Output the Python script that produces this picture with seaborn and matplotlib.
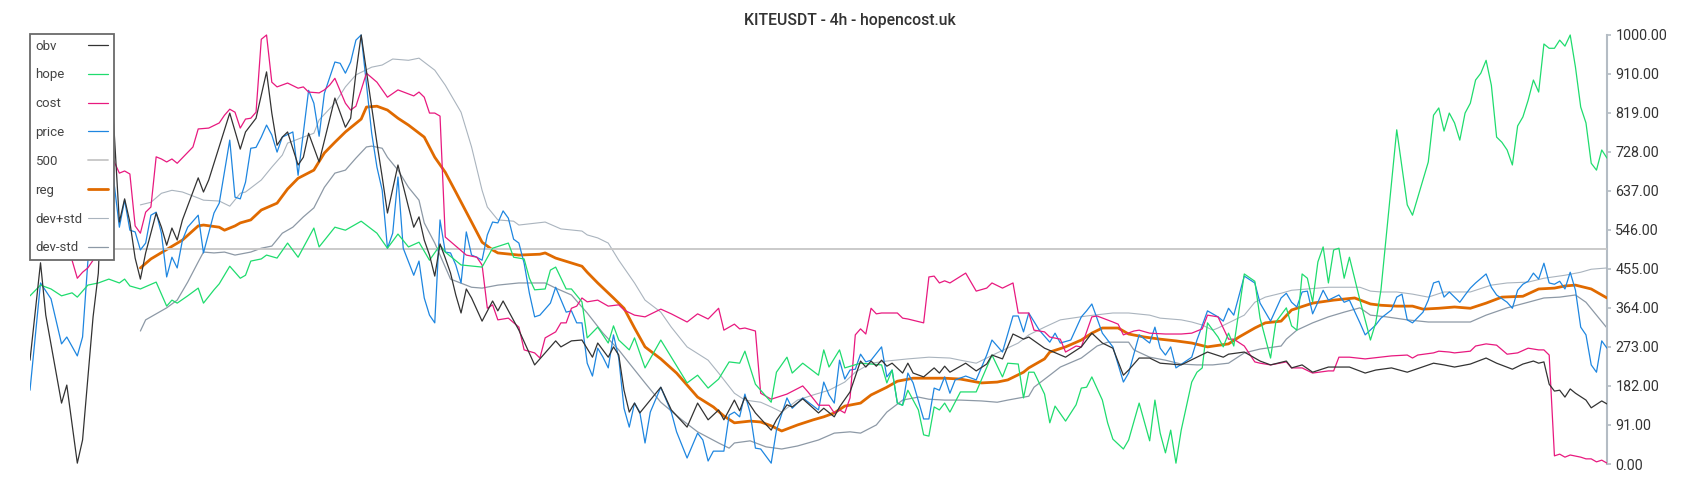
import matplotlib.pyplot as plt
import seaborn as sns

# values; x = candle index (0..300), y on the 0-1000 scale
obv_x = [0, 2, 3, 6, 7, 9, 10, 12, 13, 14, 15, 17, 18, 19, 20, 21, 22, 24, 25, 26, 27, 28, 29, 32, 33, 34,
         38, 40, 41, 43, 45, 46, 47, 48, 49, 51, 52, 53, 55, 58, 60, 61, 62, 63, 65, 66, 67, 68, 70, 72,
         73, 74, 75, 76, 77, 78, 79, 80, 81, 82, 83, 84, 86, 88, 89, 90, 93, 96, 100, 101, 103, 105, 107,
         108, 110, 111, 112, 113, 114, 115, 116, 120, 122, 125, 127, 129, 131, 132, 134, 135, 136, 138,
         141, 142, 144, 145, 147, 150, 151, 153, 154, 156, 158, 159, 160, 161, 162, 163, 164, 166, 167,
         168, 170, 172, 173, 174, 175, 178, 180, 182, 183, 185, 187, 189, 190, 193, 197, 200, 202, 204,
         206, 208, 209, 211, 213, 215, 219, 222, 224, 227, 228, 231, 234, 236, 239, 240, 242, 244, 247,
         251, 254, 256, 259, 262, 267, 269, 271, 274, 277, 279, 282, 284, 286, 287, 288, 289, 290, 291,
         292, 293, 294, 296, 297, 299, 300]
obv = [242, 469, 347, 142, 184, 2, 56, 343, 445, 750, 990, 564, 618, 564, 480, 431, 492, 585, 552, 510,
       550, 522, 569, 667, 634, 662, 818, 734, 774, 806, 914, 818, 743, 762, 774, 697, 715, 771, 704, 853,
       785, 806, 911, 1000, 832, 748, 669, 585, 697, 599, 552, 576, 522, 487, 438, 513, 480, 445, 394, 352,
       408, 387, 333, 380, 357, 380, 312, 231, 287, 273, 287, 289, 249, 282, 249, 273, 254, 172, 121, 142,
       119, 179, 126, 86, 142, 103, 126, 103, 149, 124, 156, 119, 79, 103, 138, 133, 152, 119, 130, 110,
       133, 168, 240, 226, 240, 228, 242, 228, 235, 212, 235, 212, 203, 224, 212, 228, 214, 235, 217, 233,
       254, 245, 303, 291, 296, 270, 249, 273, 305, 282, 270, 207, 219, 247, 247, 235, 231, 249, 261, 249,
       256, 261, 240, 231, 240, 224, 231, 214, 226, 226, 212, 219, 224, 214, 235, 231, 226, 233, 247, 235,
       221, 233, 240, 235, 238, 186, 170, 172, 156, 175, 165, 149, 131, 147, 140]

hope_x = [0, 2, 4, 6, 8, 9, 11, 13, 15, 17, 18, 19, 21, 24, 26, 27, 28, 30, 32, 33, 35, 36, 38, 40, 41,
          42, 44, 45, 47, 49, 51, 54, 55, 58, 60, 63, 66, 68, 70, 72, 74, 76, 78, 79, 82, 86, 88, 91, 92,
          94, 95, 96, 98, 99, 100, 102, 103, 105, 106, 108, 110, 111, 112, 114, 115, 117, 120, 125, 127,
          129, 131, 133, 135, 136, 138, 141, 142, 144, 145, 147, 150, 151, 152, 154, 155, 158, 162, 163,
          164, 165, 166, 167, 169, 170, 171, 172, 173, 174, 175, 177, 180, 183, 185, 186, 188, 189, 190,
          191, 193, 194, 195, 197, 199, 200, 201, 202, 204, 205, 206, 208, 209, 211, 212, 213, 214, 215,
          216, 217, 218, 219, 221, 222, 223, 224, 226, 227, 228, 229, 231, 233, 234, 236, 237, 239, 240,
          241, 242, 243, 244, 245, 246, 247, 248, 249, 250, 251, 253, 254, 255, 256, 257, 260, 262, 263,
          266, 267, 268, 269, 270, 271, 272, 273, 274, 275, 276, 277, 278, 279, 280, 281, 282, 283, 284,
          285, 286, 287, 288, 289, 290, 291, 292, 293, 294, 295, 296, 297, 298, 299, 300]
hope = [392, 417, 408, 392, 399, 389, 417, 422, 431, 422, 431, 415, 408, 424, 368, 382, 375, 392, 410,
        375, 406, 420, 461, 433, 440, 473, 478, 487, 480, 515, 482, 550, 506, 552, 545, 566, 538, 503, 536,
        506, 517, 475, 510, 494, 464, 459, 503, 515, 482, 478, 433, 406, 408, 452, 459, 408, 408, 378, 294,
        319, 282, 322, 289, 266, 294, 224, 289, 189, 207, 177, 198, 238, 235, 263, 186, 144, 214, 249, 212,
        235, 207, 266, 226, 266, 224, 235, 231, 189, 219, 142, 137, 172, 126, 68, 65, 133, 126, 142, 121,
        168, 168, 254, 203, 235, 233, 154, 214, 214, 163, 96, 135, 100, 138, 177, 179, 203, 149, 96, 58,
        35, 56, 142, 98, 54, 149, 72, 26, 79, 2, 79, 191, 214, 224, 329, 296, 273, 305, 275, 443, 426, 340,
        247, 331, 364, 322, 312, 443, 433, 378, 471, 506, 422, 499, 503, 433, 482, 382, 336, 289, 329, 406,
        779, 604, 580, 704, 813, 830, 776, 818, 795, 755, 818, 841, 895, 911, 941, 883, 762, 750, 732, 697,
        788, 809, 848, 895, 867, 979, 969, 969, 988, 974, 1000, 925, 832, 795, 701, 685, 732, 713]

cost_x = [7, 8, 9, 10, 11, 12, 13, 14, 15, 17, 18, 19, 20, 21, 22, 23, 24, 25, 26, 27, 28, 31, 32, 34,
          36, 37, 38, 39, 40, 41, 42, 43, 44, 45, 46, 47, 49, 51, 52, 53, 55, 56, 57, 58, 60, 61, 62, 63,
          64, 66, 68, 70, 73, 74, 75, 76, 77, 78, 79, 81, 83, 85, 86, 87, 88, 89, 91, 93, 94, 96, 97, 98,
          100, 101, 102, 103, 104, 105, 106, 108, 110, 112, 113, 115, 117, 120, 122, 125, 127, 129, 131,
          132, 134, 135, 136, 138, 139, 141, 144, 147, 148, 150, 152, 153, 154, 155, 156, 157, 158, 159,
          160, 161, 162, 165, 166, 167, 170, 171, 172, 173, 174, 175, 178, 180, 182, 183, 185, 187, 188,
          190, 191, 193, 194, 196, 197, 199, 200, 202, 203, 206, 207, 208, 210, 211, 213, 216, 219, 221,
          223, 224, 226, 227, 228, 229, 231, 233, 234, 236, 239, 240, 242, 244, 247, 248, 249, 251, 254,
          259, 262, 263, 264, 267, 268, 270, 271, 274, 275, 277, 279, 281, 283, 285, 287, 288, 289, 290,
          291, 292, 293, 295, 296, 297, 298, 299, 300]
cost = [600, 475, 433, 447, 457, 475, 600, 700, 732, 678, 683, 676, 555, 538, 587, 599, 716, 711, 704,
        711, 701, 739, 781, 783, 795, 813, 827, 820, 783, 804, 806, 820, 990, 1000, 890, 879, 888, 876, 879,
        867, 865, 872, 883, 899, 841, 825, 834, 872, 911, 890, 855, 872, 858, 867, 855, 818, 818, 811, 529,
        508, 487, 482, 464, 363, 371, 336, 340, 319, 266, 259, 247, 294, 308, 329, 329, 363, 368, 387, 378,
        382, 368, 371, 359, 347, 343, 361, 350, 331, 350, 338, 363, 312, 326, 315, 317, 310, 165, 151, 163,
        182, 168, 137, 137, 119, 126, 119, 154, 301, 315, 303, 363, 350, 352, 352, 340, 338, 329, 436, 438,
        422, 427, 422, 445, 403, 410, 422, 410, 422, 352, 352, 312, 308, 296, 291, 261, 275, 273, 343, 345,
        331, 326, 301, 310, 312, 305, 303, 303, 305, 315, 347, 343, 317, 291, 291, 275, 238, 235, 231, 238,
        224, 224, 212, 217, 217, 249, 249, 245, 252, 254, 247, 254, 259, 263, 261, 259, 263, 275, 280, 277,
        256, 259, 270, 266, 266, 254, 19, 23, 16, 21, 16, 12, 12, 5, 9, 2]

price_x = [0, 2, 4, 6, 7, 9, 10, 11, 13, 15, 17, 18, 19, 20, 21, 22, 23, 24, 25, 26, 27, 28, 29, 30, 32,
           33, 35, 36, 38, 39, 40, 41, 42, 43, 44, 45, 46, 47, 48, 50, 51, 53, 54, 55, 56, 58, 59, 60, 61,
           62, 63, 65, 66, 67, 68, 69, 70, 71, 73, 74, 75, 76, 77, 78, 79, 80, 81, 82, 83, 84, 85, 86, 87,
           88, 89, 90, 91, 92, 93, 94, 95, 96, 97, 99, 100, 102, 103, 104, 105, 106, 107, 108, 109, 110,
           111, 112, 113, 114, 115, 116, 117, 118, 120, 122, 123, 125, 127, 128, 129, 130, 132, 133, 134,
           135, 136, 137, 138, 139, 141, 142, 144, 145, 147, 150, 151, 152, 153, 154, 155, 156, 157, 158,
           159, 160, 162, 163, 164, 165, 166, 167, 168, 170, 171, 172, 173, 174, 175, 176, 178, 180, 182,
           183, 185, 187, 188, 189, 190, 192, 194, 195, 196, 198, 200, 201, 202, 204, 206, 208, 209, 211,
           213, 214, 215, 216, 217, 218, 221, 222, 224, 226, 227, 228, 229, 231, 233, 234, 236, 238, 239,
           240, 241, 242, 243, 244, 245, 246, 247, 249, 250, 251, 253, 254, 256, 257, 259, 260, 261, 262,
           263, 265, 266, 267, 268, 269, 270, 272, 273, 274, 275, 277, 278, 279, 281, 282, 283, 284, 285,
           286, 287, 288, 289, 290, 291, 292, 293, 294, 295, 296, 297, 298, 299, 300]
price = [172, 422, 385, 280, 296, 252, 296, 471, 650, 756, 552, 615, 545, 541, 499, 515, 580, 587, 538,
         436, 482, 457, 522, 552, 580, 492, 585, 608, 755, 622, 618, 657, 736, 738, 762, 790, 767, 727, 762,
         774, 673, 871, 841, 764, 864, 937, 934, 911, 937, 988, 1000, 771, 692, 638, 503, 538, 669, 503, 440,
         473, 387, 347, 329, 569, 494, 492, 464, 422, 541, 487, 482, 475, 534, 564, 562, 590, 573, 524, 515,
         468, 398, 343, 347, 375, 412, 354, 357, 329, 329, 235, 205, 270, 249, 224, 301, 247, 130, 86, 142,
         121, 49, 121, 179, 121, 75, 14, 72, 56, 7, 30, 30, 114, 121, 110, 163, 119, 37, 35, 2, 79, 154, 130,
         154, 126, 191, 161, 142, 242, 198, 219, 221, 256, 238, 242, 273, 203, 219, 142, 137, 212, 189, 105,
         105, 177, 172, 203, 165, 196, 205, 196, 254, 289, 261, 345, 345, 308, 352, 312, 284, 305, 282, 289,
         343, 357, 373, 305, 273, 191, 212, 301, 282, 319, 270, 254, 273, 224, 249, 289, 357, 343, 333, 363,
         347, 438, 422, 375, 333, 387, 398, 377, 366, 401, 403, 350, 377, 405, 382, 394, 377, 382, 329, 301,
         324, 340, 359, 389, 396, 336, 329, 354, 382, 422, 426, 389, 401, 377, 394, 410, 422, 443, 412, 394,
         377, 363, 405, 419, 426, 445, 431, 468, 422, 419, 426, 408, 447, 405, 319, 301, 231, 214, 287, 270]

level_500 = 500

reg_x = [21, 23, 29, 32, 33, 36, 37, 39, 40, 42, 44, 47, 49, 51, 54, 56, 58, 60, 63, 64, 66, 68, 70, 72,
         75, 77, 79, 81, 84, 86, 88, 89, 93, 97, 98, 100, 105, 106, 108, 111, 113, 115, 117, 120, 123, 125,
         127, 130, 132, 134, 137, 139, 141, 143, 146, 149, 151, 153, 155, 158, 160, 163, 165, 168, 171,
         174, 177, 181, 184, 186, 189, 190, 193, 194, 197, 200, 202, 204, 207, 209, 212, 215, 218, 221,
         224, 228, 230, 233, 235, 238, 240, 244, 248, 252, 255, 257, 260, 263, 265, 268, 271, 274, 277,
         280, 284, 287, 290, 292, 294, 297, 300]
reg = [457, 478, 522, 555, 557, 552, 545, 555, 562, 569, 592, 608, 641, 666, 685, 725, 750, 774, 804, 832,
       834, 825, 806, 790, 762, 715, 680, 634, 564, 517, 499, 492, 487, 489, 492, 480, 461, 447, 422, 387,
       363, 317, 273, 245, 212, 184, 156, 133, 112, 96, 100, 98, 89, 77, 91, 103, 110, 119, 135, 142, 161,
       179, 193, 200, 200, 200, 198, 189, 191, 196, 214, 224, 245, 261, 273, 289, 305, 317, 317, 303, 296,
       291, 287, 282, 273, 280, 296, 317, 329, 333, 359, 375, 382, 387, 373, 370, 368, 368, 361, 363, 366,
       363, 375, 389, 391, 408, 410, 415, 417, 408, 387]

dev_hi_x = [21, 23, 25, 27, 29, 32, 33, 36, 38, 40, 41, 44, 46, 48, 49, 52, 54, 55, 58, 60, 62, 65, 67,
            69, 72, 74, 77, 79, 82, 84, 86, 87, 89, 92, 93, 98, 101, 105, 106, 108, 110, 112, 115, 117,
            120, 122, 125, 129, 131, 134, 136, 139, 141, 143, 146, 149, 152, 155, 157, 160, 163, 167, 171,
            175, 177, 180, 182, 184, 188, 190, 193, 196, 201, 206, 209, 213, 215, 219, 221, 223, 225, 226,
            228, 231, 233, 235, 238, 240, 247, 250, 253, 255, 257, 260, 263, 266, 269, 274, 278, 281, 285,
            288, 292, 295, 297, 300]
dev_hi = [604, 610, 631, 638, 634, 620, 615, 613, 601, 631, 634, 662, 692, 720, 748, 762, 771, 802, 841,
          879, 907, 925, 930, 944, 941, 946, 918, 883, 820, 739, 638, 599, 569, 566, 557, 564, 548, 543, 534,
          527, 515, 475, 422, 382, 354, 319, 273, 242, 212, 165, 149, 144, 133, 121, 149, 161, 172, 191, 214,
          235, 240, 245, 249, 247, 242, 235, 247, 259, 282, 301, 319, 336, 345, 352, 352, 347, 340, 336, 331,
          324, 312, 317, 329, 347, 377, 389, 398, 405, 412, 412, 412, 403, 401, 401, 396, 389, 401, 401, 417,
          422, 424, 433, 440, 447, 454, 457]

dev_lo_x = [21, 22, 24, 26, 28, 30, 32, 33, 35, 37, 39, 42, 44, 46, 48, 50, 52, 54, 56, 58, 60, 62, 64,
            65, 67, 68, 70, 72, 74, 75, 77, 79, 80, 84, 86, 89, 93, 96, 98, 100, 103, 106, 109, 112, 114,
            117, 120, 124, 127, 131, 133, 134, 137, 140, 143, 146, 150, 153, 156, 158, 161, 163, 166, 169,
            171, 174, 177, 181, 184, 186, 190, 191, 194, 196, 200, 203, 205, 209, 210, 213, 216, 219, 222,
            225, 228, 231, 234, 238, 239, 241, 244, 247, 250, 253, 255, 258, 262, 266, 269, 274, 277, 281,
            285, 288, 291, 294, 296, 298, 300]
dev_lo = [310, 336, 350, 364, 382, 424, 471, 494, 492, 494, 487, 494, 503, 508, 538, 552, 576, 597, 645,
          678, 685, 713, 739, 741, 736, 715, 685, 645, 615, 562, 515, 459, 431, 412, 410, 417, 422, 422, 422,
          410, 394, 352, 305, 266, 235, 189, 144, 103, 75, 49, 37, 49, 54, 40, 35, 42, 56, 72, 75, 72, 91,
          121, 149, 156, 151, 149, 149, 147, 144, 149, 158, 179, 207, 226, 247, 275, 284, 284, 266, 249, 242,
          233, 231, 231, 235, 259, 268, 275, 291, 312, 329, 343, 354, 364, 347, 343, 336, 331, 331, 331, 347,
          364, 377, 387, 389, 394, 377, 347, 317]

y_ticks = [0, 91, 182, 273, 364, 455, 546, 637, 728, 819, 910, 1000]
title = "KITEUSDT - 4h - hopencost.uk"

# ---- styling ----
sns.set_theme(style="white")
plt.rcParams["font.family"] = ["Roboto", "DejaVu Sans"]

W, H = 1700, 500
fig = plt.figure(figsize=(17, 5), dpi=100)
ax = fig.add_axes([30 / W, (H - 468.3) / H, 1577 / W, 437.6 / H])

# name, x, y, colour, width, z  (first entries drawn on top)
series = [
    ("obv", obv_x, obv, "#333333", 0.9, 9),
    ("hope", hope_x, hope, "#1fdc6e", 0.9, 8),
    ("cost", cost_x, cost, "#e8197f", 0.9, 7),
    ("price", price_x, price, "#1e86e0", 0.9, 6),
    ("reg", reg_x, reg, "#e06a00", 2.0, 4),
    ("dev+std", dev_hi_x, dev_hi, "#aab4be", 0.8, 3),
    ("dev-std", dev_lo_x, dev_lo, "#8d99a6", 0.9, 2),
]
for name, xs, ys, col, lw, z in series:
    sns.lineplot(x=xs, y=ys, ax=ax, color=col, linewidth=lw, label=name, zorder=z)
ax.axhline(level_500, color="#c6c6c6", linewidth=1.3, label="500", zorder=5)

ax.set_xlim(0, 300)
ax.set_ylim(-10, 1010)
ax.set_xticks([])
ax.set_xlabel("")
ax.set_ylabel("")
ax.yaxis.tick_right()
ax.set_yticks(y_ticks)
ax.set_yticklabels([f"{v:.2f}" for v in y_ticks])
ax.tick_params(axis="y", right=True, length=3, width=1.2, color="#b4bcc4",
               labelsize=10.3, labelcolor="#333333", pad=3)
for s in ["left", "top", "bottom"]:
    ax.spines[s].set_visible(False)
ax.spines["right"].set_color("#b4bcc4")
ax.spines["right"].set_linewidth(1.5)
ax.spines["right"].set_bounds(0, 1000)

fig.text(0.5, 1 - 21 / H, title, ha="center", va="center", fontsize=11.3,
         color="#333333", fontweight="medium")

# legend: text left, line right
order = ["obv", "hope", "cost", "price", "500", "reg", "dev+std", "dev-std"]
handles, labels = ax.get_legend_handles_labels()
hmap = dict(zip(labels, handles))
leg = ax.legend([hmap[k] for k in order], order, loc="upper left",
                bbox_to_anchor=(30 / W, 1 - 34 / H), bbox_transform=fig.transFigure,
                borderaxespad=0, markerfirst=False, fancybox=False, framealpha=1,
                edgecolor="#6a6a6a", fontsize=9.5, labelspacing=1.2,
                handlelength=1.55, handletextpad=0.5, borderpad=0.42)
leg.get_frame().set_linewidth(1.3)
leg.set_zorder(20)
for t in leg.get_texts():
    t.set_color("#444444")

fig.canvas.draw()
r = fig.canvas.get_renderer()
widths = [t.get_window_extent(r).width for t in leg.get_texts()]
rows = leg._legend_handle_box.get_children()[0].get_children()
for row, w in zip(rows, widths):
    row.sep = (5 + max(widths) - w) * 72 / fig.dpi

fig.savefig("out.png", dpi=100, facecolor="white")
